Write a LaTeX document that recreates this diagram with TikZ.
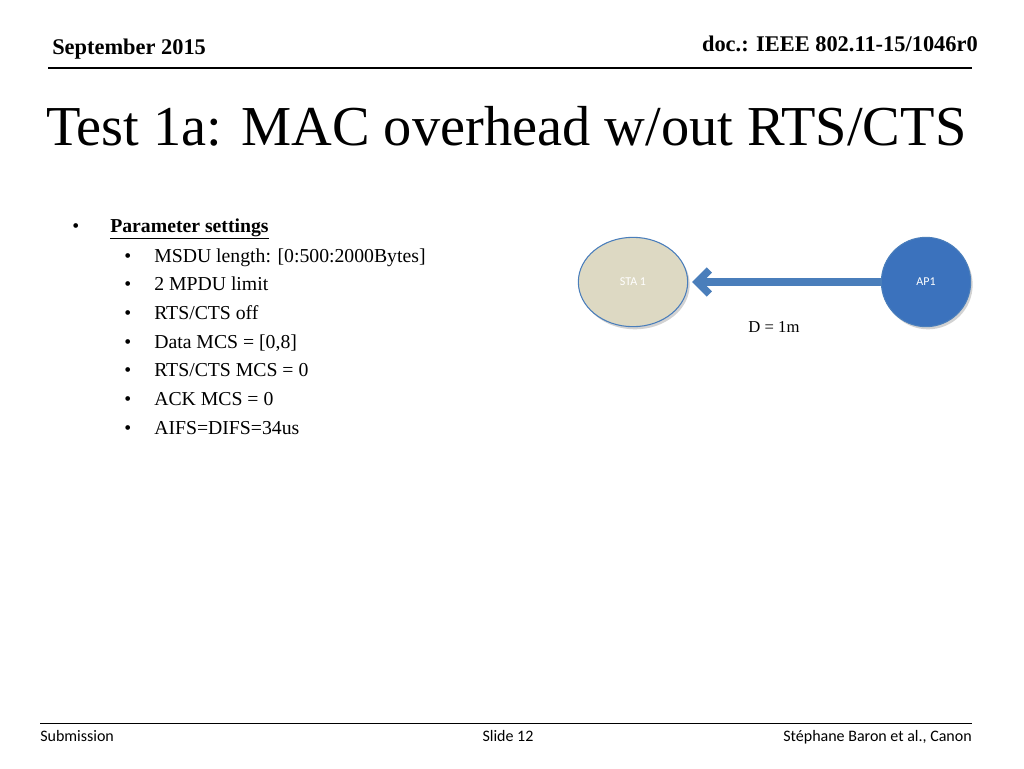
\documentclass[tikz,border=0pt]{standalone}
\usepackage{fontspec}
\setmainfont{Liberation Serif}
\newfontfamily\footfont{Carlito}
\usetikzlibrary{positioning,shadows,shapes.geometric,arrows.meta}
\definecolor{stafill}{RGB}{221,217,195}
\definecolor{apfill}{RGB}{59,114,189}
\definecolor{linkblue}{RGB}{74,126,187}
\tikzset{
  station/.style={draw=linkblue, thick, text=white, font=\footfont\fontsize{9}{10}\selectfont,
    drop shadow={shadow xshift=1.5pt, shadow yshift=-2pt, fill=black!35}},
  item/.style={anchor=base west, inner sep=0pt, font=\fontsize{14.8}{17}\selectfont},
  dot/.style={anchor=base west, inner sep=0pt, font=\fontsize{14.8}{17}\selectfont},
  foot/.style={inner sep=0pt, font=\footfont\fontsize{12}{14}\selectfont},
}
\begin{document}
\begin{tikzpicture}[x=0.75pt,y=-0.75pt]
\useasboundingbox (0,0) rectangle (1024,768);
% header
\node (date) [anchor=base west, inner sep=0pt, font=\bfseries\fontsize{16.8}{19}\selectfont] at (52,54) {September 2015};
\node (doc) [anchor=base east, inner sep=0pt, font=\bfseries\fontsize{16.8}{19}\selectfont] at (978,51) {doc.: IEEE 802.11-15/1046r0};
\draw[thick] (48,68) -- (972,68);
\node (title) [anchor=base west, inner sep=0pt, font=\fontsize{42.3}{46}\selectfont] at (46,145) {Test 1a: MAC overhead w/out RTS/CTS};
% bullets
\node (b0) [dot] at (72,232) {\textbullet};
\node (p0) [item, font=\bfseries\fontsize{14.8}{17}\selectfont] at (110,232) {\underline{Parameter settings}};
\foreach \y/\t in {262/{MSDU length: [0:500:2000Bytes]}, 290/{2 MPDU limit}, 319/{RTS/CTS off},
  348/{Data MCS = [0,8]}, 376/{RTS/CTS MCS = 0}, 405/{ACK MCS = 0}, 434/{AIFS=DIFS=34us}} {
  \node [dot] at (124,\y) {\textbullet};
  \node [item] at (154,\y) {\t};
}
% stations
\node (sta) [station, ellipse, fill=stafill, minimum width=82pt, minimum height=67pt] at (633,282) {STA 1};
\node (ap) [station, circle, fill=apfill, minimum size=67pt] at (926,282) {AP1};
\draw[linkblue, line width=5.5pt, -{Straight Barb[length=9pt,width=18pt]}] (ap.west) -- ([xshift=3pt]sta.east);
\node (dist) [anchor=base, font=\fontsize{12.5}{14}\selectfont] at (774,332) {D = 1m};
% footer
\draw (40,723) -- (972,723);
\node (sub) [foot, anchor=base west] at (40,741) {Submission};
\node (slide) [foot, anchor=base] at (508,741) {Slide 12};
\node (auth) [foot, anchor=base east] at (972,741) {Stéphane Baron et al., Canon};
\end{tikzpicture}
\end{document}
